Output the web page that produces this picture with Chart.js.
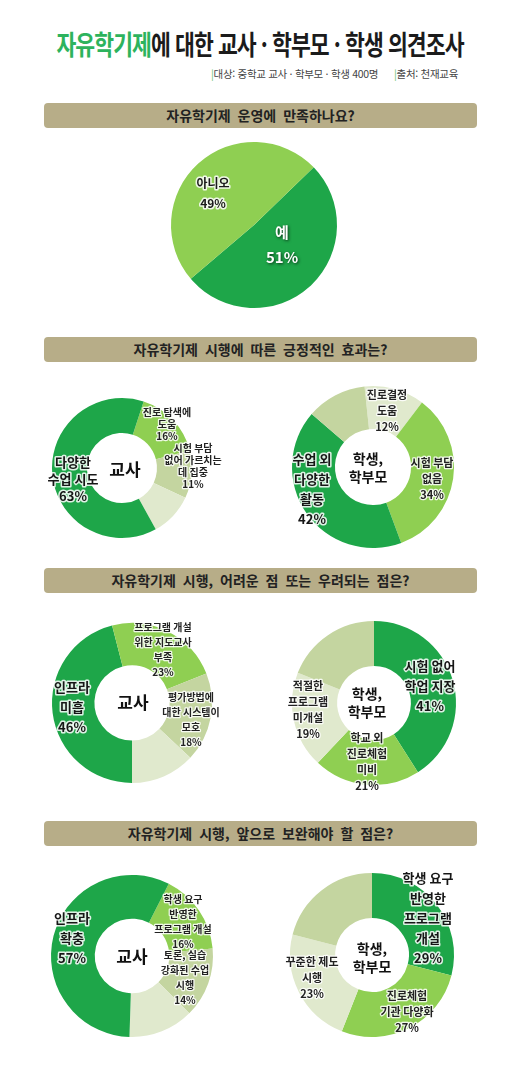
<!DOCTYPE html>
<html lang="ko">
<head>
<meta charset="utf-8">
<script src="https://cdn.jsdelivr.net/npm/chart.js@4.4.1/dist/chart.umd.min.js"></script>
<style>
  body { margin: 0; background: #fff; font-family: "Noto Sans CJK KR", sans-serif; }
  #page { position: relative; width: 520px; height: 1066px; overflow: hidden; }
  .title { position: absolute; left: 0; top: 24px; width: 520px; text-align: center; font-size: 27px; font-weight: bold; letter-spacing: -1.2px; color: #1b1b1b; transform: scaleX(0.8); white-space: nowrap; }
  .title span { color: #2db35d; }
  .sub { position: absolute; left: 211px; top: 66px; font-size: 10.5px; color: #444; white-space: nowrap; letter-spacing: -0.3px; }
  .sub b { color: #6bbf6b; font-weight: normal; }
  .bar { position: absolute; left: 44px; width: 433px; height: 25px; border-radius: 4px; background: #b7ad88; text-align: center; font-weight: bold; font-size: 14px; line-height: 25px; color: #222; word-spacing: 3px; }
  canvas { position: absolute; }
</style>
</head>
<body>
<div id="page">
  <div class="title"><span>자유학기제</span>에 대한 교사 · 학부모 · 학생 의견조사</div>
  <div class="sub"><b>|</b>대상: 중학교 교사 · 학부모 · 학생 400명&nbsp;&nbsp;&nbsp;&nbsp;&nbsp;&nbsp;<b>|</b>출처: 천재교육</div>

  <div class="bar" style="top:103px">자유학기제 운영에 만족하나요?</div>
  <div class="bar" style="top:337px">자유학기제 시행에 따른 긍정적인 효과는?</div>
  <div class="bar" style="top:568px">자유학기제 시행, 어려운 점 또는 우려되는 점은?</div>
  <div class="bar" style="top:821px">자유학기제 시행, 앞으로 보완해야 할 점은?</div>

  <canvas id="c0" width="240" height="240" style="left:134px;top:105px"></canvas>
  <canvas id="c1" width="240" height="240" style="left:2px;top:348px"></canvas>
  <canvas id="c2" width="240" height="240" style="left:253px;top:347px"></canvas>
  <canvas id="c3" width="240" height="240" style="left:12px;top:583px"></canvas>
  <canvas id="c4" width="240" height="240" style="left:254px;top:583px"></canvas>
  <canvas id="c5" width="240" height="240" style="left:12px;top:836px"></canvas>
  <canvas id="c6" width="240" height="240" style="left:252px;top:835px"></canvas>
</div>
<script>
const GREEN = "#1ea649";
const LIGHT = "#8fcf52";
const TAN = "#c4d5a0";
const PALE = "#e0e9cd";

// 운영 만족
const satCats = ["예", "아니오"];
const satValues = [51, 49];

// 긍정적인 효과 - 교사
const goodTeacherCats = ["진로 탐색에\n도움", "시험 부담\n없어 가르치는\n데 집중", "", "다양한\n수업 시도"];
const goodTeacherValues = [16, 11, 10, 63];
// 긍정적인 효과 - 학생, 학부모
const goodParentCats = ["진로결정\n도움", "시험 부담\n없음", "수업 외\n다양한\n활동", ""];
const goodParentValues = [12, 34, 42, 12];

// 어려운 점 - 교사
const hardTeacherCats = ["인프라\n미흡", "프로그램 개설\n위한 지도교사\n부족", "평가방법에\n대한 시스템이\n모호", ""];
const hardTeacherValues = [46, 23, 18, 13];
// 어려운 점 - 학생, 학부모
const hardParentCats = ["시험 없어\n학업 지장", "학교 외\n진로체험\n미비", "적절한\n프로그램\n미개설", ""];
const hardParentValues = [41, 21, 19, 19];

// 보완할 점 - 교사
const fixTeacherCats = ["학생 요구\n반영한\n프로그램 개설", "토론, 실습\n강화된 수업\n시행", "", "인프라\n확충"];
const fixTeacherValues = [16, 14, 13, 57];
// 보완할 점 - 학생, 학부모
const fixParentCats = ["학생 요구\n반영한\n프로그램\n개설", "진로체험\n기관 다양화", "꾸준한 제도\n시행", ""];
const fixParentValues = [29, 27, 23, 21];

const FONT = '"Noto Sans CJK KR", sans-serif';
const styles = {
  pieDark: { font: "bold 12px " + FONT, lh: 20, fill: "#1a1a1a", halo: 3 },
  pieWhite: { font: "bold 15px " + FONT, lh: 25, fill: "#fff", shadow: true },
  big: { font: "bold 13px " + FONT, lh: 20, fill: "#161616", halo: 3 },
  big17: { font: "bold 13px " + FONT, lh: 17, fill: "#161616", halo: 3 },
  sm12: { font: "bold 10px " + FONT, lh: 12, fill: "#222", halo: 2.5 },
  sm15: { font: "bold 10px " + FONT, lh: 15, fill: "#222", halo: 2.5 },
  mid: { font: "bold 11px " + FONT, lh: 16, fill: "#222", halo: 2.5 },
  center: { font: "bold 17px " + FONT, lh: 19, fill: "#111", halo: 0 },
  center2: { font: "bold 14px " + FONT, lh: 18, fill: "#111", halo: 0 }
};

function drawLines(ctx, lines, x, y, st) {
  ctx.font = st.font;
  let y0 = y - (lines.length - 1) * st.lh / 2;
  lines.forEach(function (t, k) {
    let yy = y0 + k * st.lh;
    if (st.shadow) {
      ctx.save();
      ctx.shadowColor = "rgba(0,0,0,0.7)";
      ctx.shadowBlur = 3;
      ctx.shadowOffsetX = 1;
      ctx.shadowOffsetY = 1;
      ctx.fillStyle = st.fill;
      ctx.fillText(t, x, yy);
      ctx.restore();
      return;
    }
    if (st.halo) {
      ctx.lineJoin = "round";
      ctx.lineWidth = st.halo;
      ctx.strokeStyle = "rgba(255,255,255,0.85)";
      ctx.strokeText(t, x, yy);
    }
    ctx.fillStyle = st.fill;
    ctx.fillText(t, x, yy);
  });
}

const segLabels = {
  id: "segLabels",
  afterDatasetsDraw(chart, args, opts) {
    const ctx = chart.ctx;
    const ds = chart.data.datasets[0];
    const arc = chart.getDatasetMeta(0).data[0];
    const cx = arc.x, cy = arc.y;
    ctx.save();
    ctx.textAlign = "center";
    ctx.textBaseline = "middle";
    if (opts.center) {
      drawLines(ctx, opts.center.text.split("\n"), cx + opts.center.dx, cy + opts.center.dy, styles[opts.center.style]);
    }
    opts.spots.forEach(function (s, i) {
      if (!s) return;
      const lines = chart.data.labels[i].split("\n").concat(ds.data[i] + "%");
      drawLines(ctx, lines, cx + s[0], cy + s[1], styles[s[2]]);
    });
    ctx.restore();
  }
};

function makeChart(id, cats, values, colors, radius, cutout, rotation, spots, center) {
  return new Chart(document.getElementById(id), {
    type: "doughnut",
    data: {
      labels: cats,
      datasets: [{
        data: values,
        backgroundColor: colors,
        borderWidth: 0,
        hoverOffset: 0
      }]
    },
    options: {
      responsive: false,
      animation: false,
      radius: radius,
      cutout: cutout,
      rotation: rotation,
      layout: { padding: 0 },
      plugins: {
        legend: { display: false },
        tooltip: { enabled: false },
        segLabels: { spots: spots, center: center }
      }
    },
    plugins: [segLabels]
  });
}

makeChart("c0", satCats, satValues, [GREEN, LIGHT], 83, 0, 46,
  [[28, 20, "pieWhite"], [-41, -32, "pieDark"]], null);

makeChart("c1", goodTeacherCats, goodTeacherValues, [LIGHT, TAN, PALE, GREEN], 70, "50%", 18,
  [[45, -44, "sm12"], [71, -2, "sm12"], null, [-49, 11, "big17"]],
  { text: "교사", dx: 3, dy: 2, style: "center" });

makeChart("c2", goodParentCats, goodParentValues, [PALE, LIGHT, GREEN, TAN], 81, "47%", -6,
  [[14, -56, "mid"], [59, 12, "mid"], [-61, 22, "big"], null],
  { text: "학생,\n학부모", dx: -5, dy: 1, style: "center2" });

makeChart("c3", hardTeacherCats, hardTeacherValues, [GREEN, LIGHT, TAN, PALE], 80, "47%", 180,
  [[-60, 4, "big"], [31, -53, "sm15"], [59, 17, "sm15"], null],
  { text: "교사", dx: 1, dy: 0, style: "center" });

makeChart("c4", hardParentCats, hardParentValues, [GREEN, LIGHT, PALE, TAN], 82, "45%", 0,
  [[56, -17, "big"], [-7, 59, "mid"], [-66, 7, "mid"], null],
  { text: "학생,\n학부모", dx: -7, dy: 0, style: "center2" });

makeChart("c5", fixTeacherCats, fixTeacherValues, [LIGHT, TAN, PALE, GREEN], 81, "46%", 27,
  [[51, -34, "sm15"], [53, 22, "sm15"], null, [-60, -18, "big"]],
  { text: "교사", dx: 0, dy: 1, style: "center" });

makeChart("c6", fixParentCats, fixParentValues, [GREEN, LIGHT, PALE, TAN], 82, "45%", 0,
  [[56, -37, "big"], [35, 57, "mid"], [-60, 23, "mid"], null],
  { text: "학생,\n학부모", dx: 0, dy: 3, style: "center2" });
</script>
</body>
</html>
